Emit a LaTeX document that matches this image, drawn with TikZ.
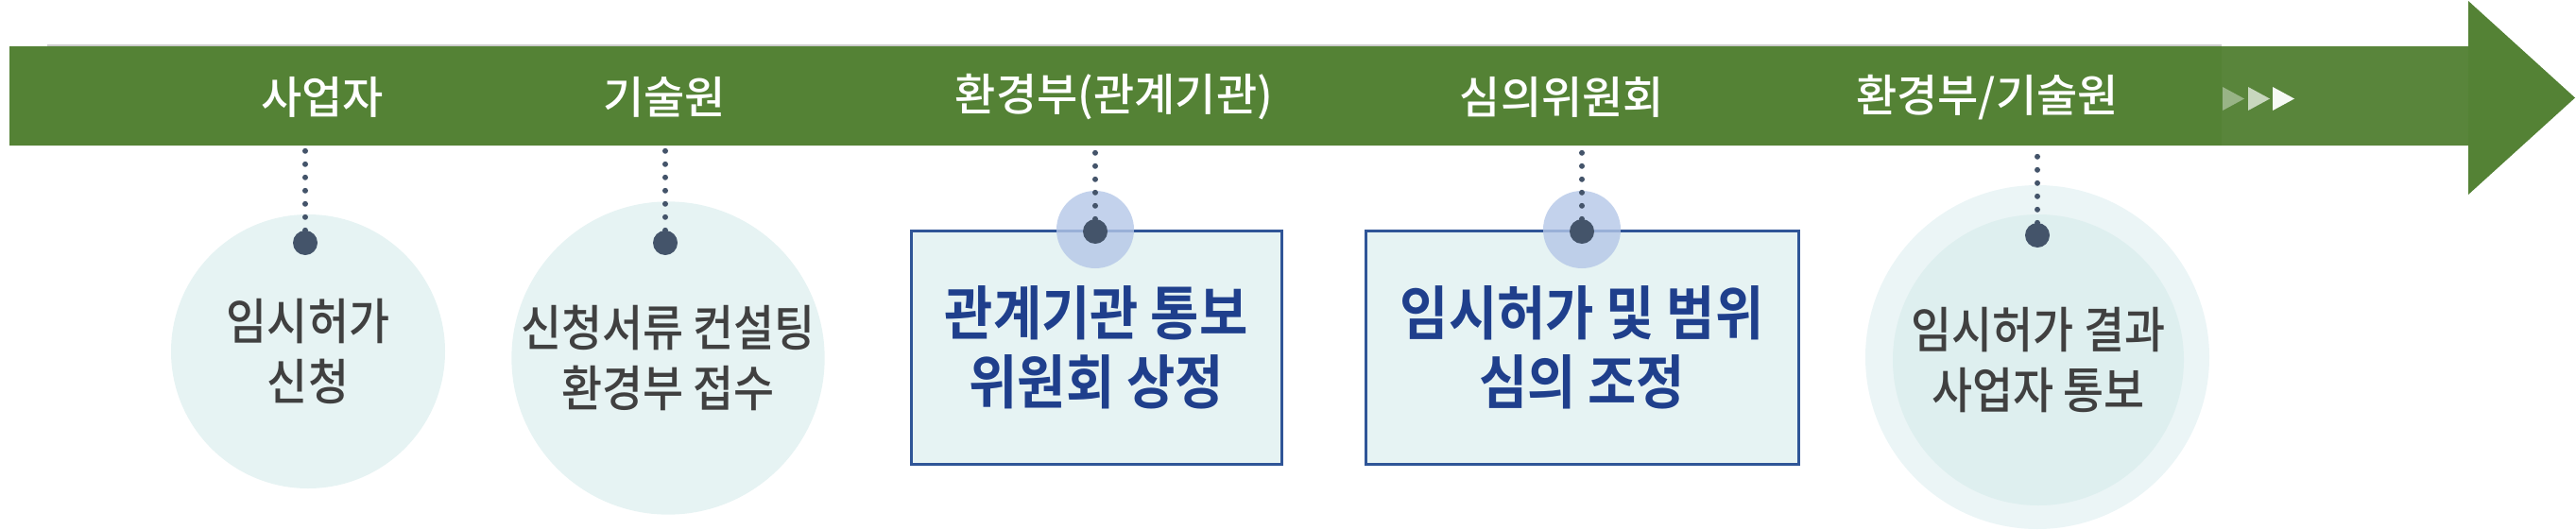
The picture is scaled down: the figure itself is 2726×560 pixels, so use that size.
\documentclass[tikz,border=0pt]{standalone}
\usepackage{fontspec}
\setmainfont{Noto Sans CJK KR Medium}[FakeStretch=0.9,BoldFont={Noto Sans CJK KR Bold}]
\newfontfamily\whofont{Noto Sans CJK KR Medium}[FakeStretch=1.0]
\definecolor{barg}{HTML}{548235}
\definecolor{pinc}{HTML}{44546A}
\definecolor{softc}{HTML}{E6F3F3}
\definecolor{ringc}{HTML}{EBF5F6}
\definecolor{innerc}{HTML}{DEEFEF}
\definecolor{boxl}{HTML}{2F5597}
\definecolor{boxt}{HTML}{1F3F8C}
\definecolor{haloc}{HTML}{B4C7E7}
\definecolor{txtg}{HTML}{404040}

\begin{document}
\begin{tikzpicture}[x=1pt,y=-1pt,
  who/.style={text=white,font=\whofont\fontsize{47}{52}\selectfont},
  stepc/.style={circle,fill=softc,inner sep=0pt,align=center,text=txtg,font=\fontsize{52}{64}\selectfont},
  stepb/.style={draw=boxl,line width=3pt,fill=softc,minimum height=247pt,align=center,text=boxt,font=\bfseries\fontsize{62}{73}\selectfont},
  pin/.style={circle,fill=pinc,minimum size=26pt,inner sep=0pt},
  halo/.style={circle,fill=haloc,opacity=0.8,minimum size=82pt,inner sep=0pt},
  link/.style={pinc,line width=6pt,line cap=round,dash pattern=on 0pt off 14pt}]
\useasboundingbox (0,0) rectangle (2726,560);
\fill[barg] (10,49) -- (2612,49) -- (2612,1) -- (2725,103.5) -- (2612,206) -- (2612,154) -- (10,154) -- cycle;
\draw[line width=2pt,gray!40] (50,48) -- (2351,48);
\fill[white,opacity=0.03] (2351,49) rectangle (2612,154);
\foreach \x/\c in {2352/40,2379/68,2405/95}
  \fill[white!\c!barg] (\x,92) -- (\x+23,104.5) -- (\x,117) -- cycle;
\coordinate (barbot) at (0,154);
\node[who] (who1) at (341,103) {사업자};
\node[who] (who2) at (703,103) {기술원};
\node[who] (who3) at (1179,103) {환경부(관계기관)};
\node[who] (who4) at (1653,103) {심의위원회};
\node[who] (who5) at (2103,103) {환경부/기술원};
\node[stepc,minimum size=290pt] (step1) at (326,372) {임시허가\\신청};
\node[stepc,minimum size=298pt] (step2) at (707,379) {신청서류 컨설팅\\환경부 접수};
\node[stepb,minimum width=392pt] (step3) at (1160,367.5) {관계기관 통보\\위원회 상정};
\node[stepb,minimum width=458pt] (step4) at (1674,367.5) {임시허가 및 범위\\심의 조정};
\node[circle,fill=ringc,minimum size=364pt] (ring5) at (2156,378) {};
\node[stepc,fill=innerc,minimum size=308pt] (step5) at (2157,381) {임시허가 결과\\사업자 통보};
\node[halo] (halo3) at (1159,243) {};
\node[halo] (halo4) at (1674,243) {};
\node[pin] (pin1) at (323,257) {};
\node[pin] (pin2) at (704,257) {};
\node[pin] (pin3) at (1159,245) {};
\node[pin] (pin4) at (1674,245) {};
\node[pin] (pin5) at (2156,249) {};
\foreach \p in {pin1,pin2,pin3,pin4,pin5}
  \draw[link] (\p) -- (\p |- barbot);
\end{tikzpicture}
\end{document}
